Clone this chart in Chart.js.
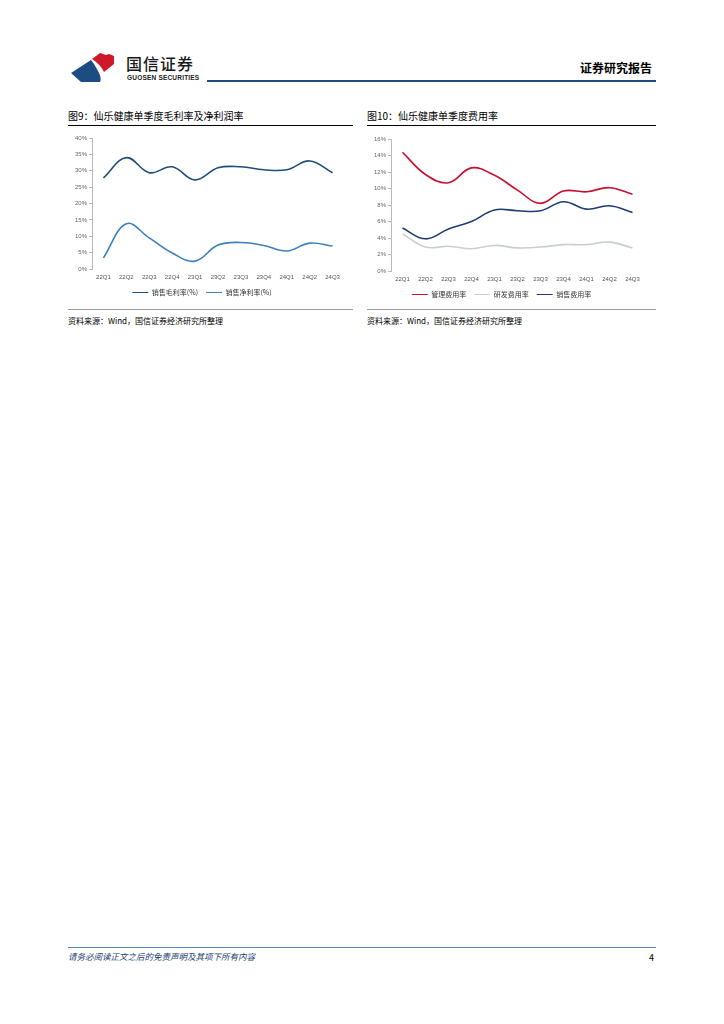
<!DOCTYPE html>
<html><head><meta charset="utf-8">
<script src="https://cdn.jsdelivr.net/npm/chart.js@4.4.1/dist/chart.umd.min.js"></script>
<style>
body{margin:0;width:724px;height:1024px;background:#fff;position:relative;font-family:"Noto Sans CJK SC","Noto Sans",sans-serif;overflow:hidden}
.abs{position:absolute;line-height:1}
.title{font-size:10px;color:#000;white-space:nowrap}
.src{font-size:8px;color:#000;white-space:nowrap}
.hr{position:absolute;height:0}
</style></head><body>
<svg class="abs" style="left:68px;top:50px" width="50" height="36" viewBox="0 0 50 36">
<path d="M3 23 L23 10 C27 15 29 19 31 23 C33 27 33 30 32 32 L13 32 Z" fill="#1C4C82"/>
<path d="M24 9 L32 3 L38 5 L41 4 L46 6 L46 14 L36 22 C34 17 30 13 24 9 Z" fill="#D0182B"/>
</svg>
<div class="abs" style="left:126px;top:55px;font-size:16px;font-weight:500;color:#1a1a1a;letter-spacing:1px">国信证券</div>
<div class="abs" style="left:127px;top:75px;font-size:6.5px;color:#222;font-family:'Liberation Sans',sans-serif;font-weight:bold;letter-spacing:0.2px">GUOSEN SECURITIES</div>
<div class="hr" style="left:207px;top:80px;width:449px;border-top:2px solid #1C4C82"></div>
<div class="abs" style="left:580px;top:62px;font-size:12px;font-weight:bold;color:#000">证券研究报告</div>

<div class="abs title" style="left:68px;top:111px">图9：仙乐健康单季度毛利率及净利润率</div>
<div class="hr" style="left:68px;top:125px;width:285px;border-top:1px solid #000"></div>
<div class="abs title" style="left:367px;top:111px">图10：仙乐健康单季度费用率</div>
<div class="hr" style="left:367px;top:125px;width:289px;border-top:1px solid #000"></div>

<div class="abs" style="left:60px;top:130px;width:292px;height:176px"><canvas id="c1"></canvas></div>
<div class="abs" style="left:359px;top:131px;width:297px;height:177px"><canvas id="c2"></canvas></div>

<div class="hr" style="left:68px;top:309px;width:285px;border-top:1px solid #999"></div>
<div class="hr" style="left:367px;top:309px;width:289px;border-top:1px solid #999"></div>
<div class="abs src" style="left:68px;top:317px">资料来源：Wind，国信证券经济研究所整理</div>
<div class="abs src" style="left:367px;top:317px">资料来源：Wind，国信证券经济研究所整理</div>

<div class="hr" style="left:68px;top:947px;width:588px;border-top:1px solid #5B86B5"></div>
<div class="abs" style="left:68px;top:952px;font-size:8.5px;font-style:italic;color:#1C3F73">请务必阅读正文之后的免责声明及其项下所有内容</div>
<div class="abs" style="left:649px;top:953px;font-size:9px;color:#000">4</div>

<script>
const quarters = ["22Q1","22Q2","22Q3","22Q4","23Q1","23Q2","23Q3","23Q4","24Q1","24Q2","24Q3"];
const grossMargin = [27.8,34.0,29.4,31.2,27.2,30.9,31.2,30.3,30.3,33.0,29.4];
const netMargin = [3.4,13.8,9.5,4.9,2.4,7.3,8.1,7.2,5.5,7.9,7.0];
const adminRate = [14.4,11.7,10.7,12.5,11.6,9.8,8.2,9.7,9.6,10.1,9.3];
const rdRate = [4.5,2.9,3.0,2.7,3.1,2.8,2.9,3.2,3.2,3.5,2.8];
const salesRate = [5.2,3.9,5.1,6.0,7.4,7.3,7.3,8.4,7.5,7.9,7.1];

const tickFont = {family:"'Liberation Sans',sans-serif", size:6};
function opts(yMax, yStep, padRight){
  return {
    responsive:true, maintainAspectRatio:false, animation:false,
    layout:{padding:{top:8,right:padRight,left:0,bottom:0}},
    plugins:{
      legend:{position:'bottom', labels:{usePointStyle:true, pointStyle:'line', pointStyleWidth:16, boxHeight:4, padding:8, color:'#333', font:{family:"'Noto Sans CJK SC',sans-serif", size:7}}},
      tooltip:{enabled:false}
    },
    scales:{
      x:{offset:true, grid:{display:false, tickLength:3}, border:{display:false}, ticks:{color:'#555', font:tickFont, maxRotation:0, autoSkip:false, padding:2},
         afterFit:s=>{s.height=12;}},
      y:{min:0, max:yMax, ticks:{stepSize:yStep, color:'#666', font:tickFont, padding:2, callback:v=>v+'%'},
         grid:{display:true, drawOnChartArea:false, drawTicks:true, tickLength:3, color:'#bbb'},
         border:{display:true, color:'#bbb'},
         afterFit:s=>{s.width=32;}}
    },
    elements:{point:{radius:0}, line:{tension:0.4, borderWidth:1.6}}
  };
}
new Chart(document.getElementById('c1'),{
  type:'line',
  data:{labels:quarters, datasets:[
    {label:'销售毛利率(%)', data:grossMargin, borderColor:'#1F4E7A', backgroundColor:'#1F4E7A'},
    {label:'销售净利率(%)', data:netMargin, borderColor:'#3E7FBD', backgroundColor:'#3E7FBD'}
  ]},
  options:opts(40,5,8)
});
new Chart(document.getElementById('c2'),{
  type:'line',
  data:{labels:quarters, datasets:[
    {label:'管理费用率', data:adminRate, borderColor:'#C8102E', backgroundColor:'#C8102E'},
    {label:'研发费用率', data:rdRate, borderColor:'#C9CDD4', backgroundColor:'#C9CDD4'},
    {label:'销售费用率', data:salesRate, borderColor:'#1F3B73', backgroundColor:'#1F3B73'}
  ]},
  options:opts(16,2,12)
});
</script>
</body></html>
